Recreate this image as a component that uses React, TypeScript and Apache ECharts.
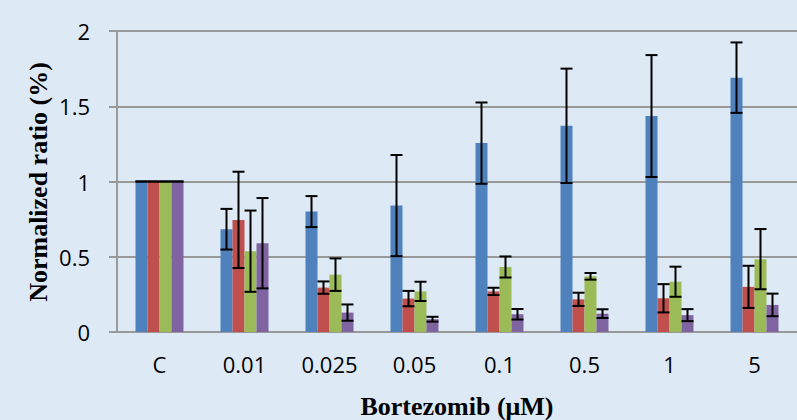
import React, { useEffect, useRef } from "react";
import * as echarts from "echarts";

const categories = ["C", "0.01", "0.025", "0.05", "0.1", "0.5", "1", "5"];
const blueVals = [1, 0.683, 0.8, 0.84, 1.255, 1.37, 1.435, 1.69];
const blueErr = [0, 0.135, 0.103, 0.336, 0.27, 0.38, 0.405, 0.234];
const redVals = [1, 0.745, 0.295, 0.222, 0.27, 0.217, 0.224, 0.3];
const redErr = [0, 0.32, 0.041, 0.051, 0.024, 0.044, 0.094, 0.14];
const greenVals = [1, 0.537, 0.381, 0.27, 0.432, 0.37, 0.334, 0.484];
const greenErr = [0, 0.27, 0.108, 0.064, 0.07, 0.022, 0.1, 0.2];
const purpleVals = [1, 0.59, 0.129, 0.085, 0.118, 0.122, 0.112, 0.18];
const purpleErr = [0, 0.3, 0.054, 0.016, 0.035, 0.029, 0.04, 0.075];

const colors = ["#4f81bd", "#c0504d", "#9bbb59", "#8064a2"];
const BAR_W = 12;

function errorSeries(vals: number[], errs: number[], k: number) {
  return {
    type: "custom",
    z: 10,
    silent: true,
    encode: { x: 0, y: 1 },
    data: vals.map((v, i) => [i, v, errs[i]]),
    renderItem: (params: any, api: any) => {
      const i = api.value(0);
      const v = api.value(1);
      const e = api.value(2);
      const off = (k - 1.5) * BAR_W;
      const top = api.coord([i, v + e]);
      const bot = api.coord([i, v - e]);
      const x = top[0] + off;
      const hw = BAR_W / 2;
      const style = { stroke: "#000", lineWidth: 2 };
      return {
        type: "group",
        children: [
          { type: "line", shape: { x1: x, y1: top[1], x2: x, y2: bot[1] }, style },
          { type: "line", shape: { x1: x - hw, y1: top[1], x2: x + hw, y2: top[1] }, style },
          { type: "line", shape: { x1: x - hw, y1: bot[1], x2: x + hw, y2: bot[1] }, style },
        ],
      };
    },
  };
}

export default function App() {
  const ref = useRef<HTMLDivElement>(null);
  useEffect(() => {
    document.body.style.margin = "0";
    const chart = echarts.init(ref.current!, undefined, { renderer: "svg" });
    const barBase = {
      type: "bar",
      barWidth: BAR_W,
      barGap: "0%",
    };
    chart.setOption({
      animation: false,
      backgroundColor: "#dee9f6",
      grid: { left: 117, right: 0, top: 31, bottom: 88 },
      xAxis: {
        type: "category",
        data: categories,
        axisLine: { lineStyle: { color: "#999999", width: 2 } },
        axisTick: { show: false },
        axisLabel: {
          color: "#000",
          fontFamily: "Open Sans",
          fontSize: 22,
          margin: 21,
        },
      },
      yAxis: {
        type: "value",
        min: 0,
        max: 2,
        interval: 0.5,
        axisLine: { show: true, lineStyle: { color: "#999999", width: 2 } },
        axisTick: { show: true, length: 8, lineStyle: { color: "#999999", width: 2 } },
        splitLine: { lineStyle: { color: "#999999", width: 2 } },
        axisLabel: {
          color: "#000",
          fontFamily: "Open Sans",
          fontSize: 22,
          margin: 27,
        },
      },
      graphic: [
        {
          type: "text",
          x: 38,
          y: 182,
          rotation: Math.PI / 2,
          style: {
            text: "Normalized ratio (%)",
            fontFamily: "Liberation Serif",
            fontWeight: "bold",
            fontSize: 26,
            fill: "#000",
            textAlign: "center",
            textVerticalAlign: "middle",
          },
        },
        {
          type: "text",
          x: 457,
          y: 406,
          style: {
            text: "Bortezomib (\u03bcM)",
            fontFamily: "Liberation Serif",
            fontWeight: "bold",
            fontSize: 26,
            fill: "#000",
            textAlign: "center",
            textVerticalAlign: "middle",
          },
        },
      ],
      series: [
        { ...barBase, data: blueVals, itemStyle: { color: colors[0] } },
        { ...barBase, data: redVals, itemStyle: { color: colors[1] } },
        { ...barBase, data: greenVals, itemStyle: { color: colors[2] } },
        { ...barBase, data: purpleVals, itemStyle: { color: colors[3] } },
        errorSeries(blueVals, blueErr, 0),
        errorSeries(redVals, redErr, 1),
        errorSeries(greenVals, greenErr, 2),
        errorSeries(purpleVals, purpleErr, 3),
      ],
    });
    return () => chart.dispose();
  }, []);
  return (
    <div
      ref={ref}
      style={{ position: "absolute", left: 0, top: 0, width: 797, height: 420 }}
    />
  );
}
